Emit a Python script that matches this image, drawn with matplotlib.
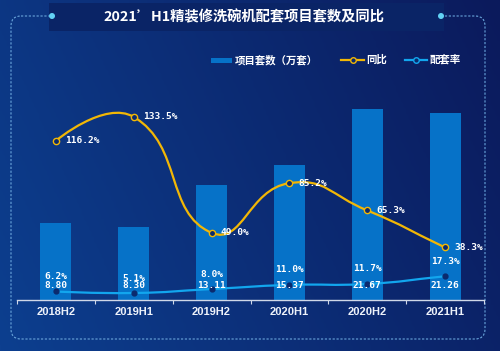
import numpy as np
import matplotlib.pyplot as plt
from matplotlib.patches import Rectangle, FancyBboxPatch, Circle, PathPatch
from matplotlib.path import Path
from matplotlib.colors import LinearSegmentedColormap
from matplotlib.lines import Line2D

# data
categories = ['2018H2', '2019H1', '2019H2', '2020H1', '2020H2', '2021H1']
project_sets = [8.80, 8.30, 13.11, 15.37, 21.67, 21.26]   # 万套
yoy = [116.2, 133.5, 49.0, 85.2, 65.3, 38.3]              # %
rate = [6.2, 5.1, 8.0, 11.0, 11.7, 17.3]                  # %

BAR_C = '#0672c8'
YOY_C = '#f2b705'
RATE_C = '#12a6ee'
DOT_C = '#0b2a6e'
CJK = ['Noto Sans CJK SC', 'DejaVu Sans']
NUM = 'DejaVu Sans Mono'

W, H = 500, 351
fig = plt.figure(figsize=(5, 3.51), dpi=100)

# background, frame, title box, legend (pixel coords)
bg = fig.add_axes([0, 0, 1, 1], zorder=0)
cmap = LinearSegmentedColormap.from_list('bg', ['#0d3f8f', '#0b1a5c'])
xx, yy = np.meshgrid(np.linspace(0, 1, 200), np.linspace(0, 1, 140))
grad = 0.8 * xx + 0.25 * (1 - yy)
bg.imshow(grad, cmap=cmap, extent=[0, W, H, 0], aspect='auto', interpolation='bilinear')
bg.set_xlim(0, W)
bg.set_ylim(H, 0)
bg.axis('off')

bg.add_patch(FancyBboxPatch((11, 16), 474, 323, boxstyle='round,pad=0,rounding_size=10',
                            fill=False, ec='#6aa6dc', lw=0.8, ls=(0, (2, 1.5))))
bg.add_patch(Rectangle((49, 3), 395, 28, fc='#0a2466', ec='none'))
bg.add_patch(Circle((52, 16), 3, fc='#62d2f5', ec='none'))
bg.add_patch(Circle((441, 16), 3, fc='#62d2f5', ec='none'))
bg.text(244, 17, '2021’H1精装修洗碗机配套项目套数及同比', color='white', fontsize=10.3,
        fontweight='bold', family=CJK, ha='center', va='center')

# legend
ly = 60
bg.add_patch(Rectangle((211, ly - 2.5), 21, 5, fc=BAR_C, ec='none'))
bg.text(235, ly, '项目套数（万套）', color='white', fontsize=7.5, fontweight='bold',
        family=CJK, ha='left', va='center')
bg.add_line(Line2D([341, 364], [ly, ly], color=YOY_C, lw=1.6))
bg.plot(352.5, ly, 'o', ms=4, mfc=DOT_C, mec=YOY_C, mew=1)
bg.text(366, ly, '同比', color='white', fontsize=7.5, fontweight='bold',
        family=CJK, ha='left', va='center')
bg.add_line(Line2D([405, 427], [ly, ly], color=RATE_C, lw=1.6))
bg.plot(416, ly, 'o', ms=4, mfc=DOT_C, mec=RATE_C, mew=1)
bg.text(430, ly, '配套率', color='white', fontsize=7.5, fontweight='bold',
        family=CJK, ha='left', va='center')

# main chart
ax = fig.add_axes([17 / W, 51 / H, 467 / W, 240 / H], zorder=1)
ax.patch.set_alpha(0)
x = np.arange(len(categories))
ax.bar(x, project_sets, width=0.4, color=BAR_C, zorder=2)
ax.set_xlim(-0.5, len(categories) - 0.5)
ax.set_ylim(0, 27.3)
for s in ['top', 'left', 'right']:
    ax.spines[s].set_visible(False)
ax.spines['bottom'].set_color('#d0d8e8')
ax.spines['bottom'].set_linewidth(1)
ax.set_yticks([])
ax.set_xticks(np.arange(-0.5, len(categories)), labels=[''] * (len(categories) + 1))
ax.tick_params(axis='x', which='major', length=3, width=0.8, color='#d0d8e8', direction='out')
ax.set_xticks(x, labels=categories, minor=True)
ax.tick_params(axis='x', which='minor', length=0, pad=5, labelcolor='#eef2fa')
for lab in ax.get_xticklabels(minor=True):
    lab.set_family(['Liberation Sans Narrow', 'Liberation Sans'])
    lab.set_fontweight('bold')
    lab.set_fontsize(8)

ax2 = ax.twinx()
ax2.set_ylim(0, 175)
ax2.axis('off')


def smooth_path(a, xs, ys, s=0.5):
    pts = a.transData.transform(np.column_stack([xs, ys]))
    n = len(pts)
    verts = [pts[0]]
    codes = [Path.MOVETO]
    cp_out = pts[0]
    for i in range(1, n):
        p = pts[i]
        prev = pts[i - 1]
        nxt = pts[i + 1] if i < n - 1 else p
        v = nxt - prev
        lp = np.hypot(*(p - prev))
        ln = np.hypot(*(nxt - p))
        r = ln / (ln + lp)
        cp_in = p - v * s * (1 - r)
        verts += [cp_out, cp_in, p]
        codes += [Path.CURVE4] * 3
        cp_out = p + v * s * r
    verts = a.transData.inverted().transform(np.array(verts))
    return Path(verts, codes)


ax2.add_patch(PathPatch(smooth_path(ax2, x, yoy), fill=False, ec=YOY_C, lw=1.6, zorder=3))
ax2.plot(x, yoy, 'o', ms=4.5, mfc=DOT_C, mec=YOY_C, mew=1, zorder=4)
ax2.add_patch(PathPatch(smooth_path(ax2, x, rate), fill=False, ec=RATE_C, lw=1.6, zorder=3))
ax2.plot(x, rate, 'o', ms=3.5, mfc=DOT_C, mec=DOT_C, zorder=4)

# bar value labels drawn on the top axes so they sit above the rate line
for i, v in enumerate(project_sets):
    ax2.annotate(f'{v:.2f}', (i, 0), xytext=(0, 14), textcoords='offset pixels',
                 ha='center', va='center', color='white', fontsize=6.8,
                 fontweight='bold', family=NUM, zorder=5)
for i, v in enumerate(yoy):
    ax2.annotate(f'{v:.1f}%', (i, v), xytext=(9, 0), textcoords='offset pixels',
                 ha='left', va='center', color='white', fontsize=6.8,
                 fontweight='bold', family=NUM, zorder=5)
for i, v in enumerate(rate):
    ax2.annotate(f'{v:.1f}%', (i, v), xytext=(0, 15), textcoords='offset pixels',
                 ha='center', va='center', color='white', fontsize=6.8,
                 fontweight='bold', family=NUM, zorder=5)

fig.savefig('out.png', dpi=100)
